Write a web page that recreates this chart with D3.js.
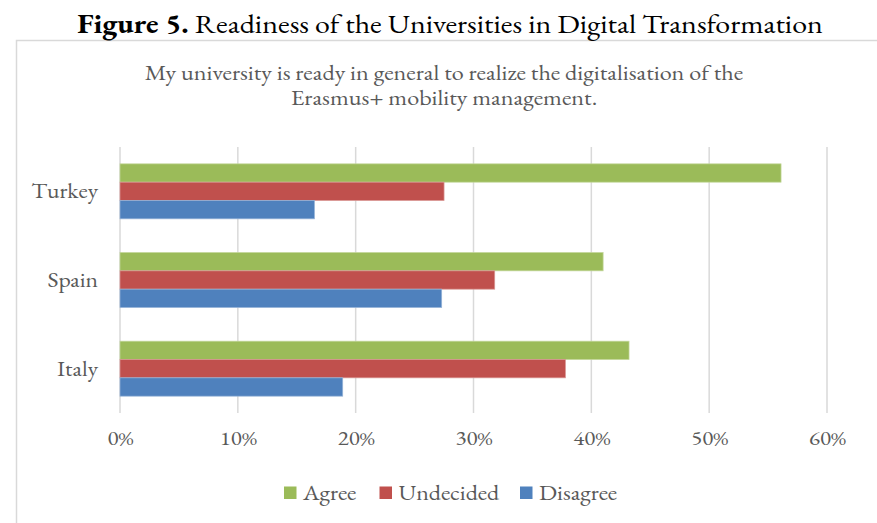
<!DOCTYPE html>
<html>
<head>
<meta charset="utf-8">
<script src="https://cdn.jsdelivr.net/npm/d3@7"></script>
<style>
  body { margin: 0; background: #fff; }
</style>
</head>
<body>
<div id="chart"></div>
<script>
var countries = ["Turkey", "Spain", "Italy"];
var series = ["Agree", "Undecided", "Disagree"];
var agree = [56.1, 41.0, 43.2];
var undecided = [27.5, 31.8, 37.8];
var disagree = [16.5, 27.3, 18.9];
var tickValues = [0, 10, 20, 30, 40, 50, 60];
var colors = ["#9BBB59", "#C0504D", "#4F81BD"];
var strokes = ["#c3d69b", "#d99694", "#95b3d7"];

var FONT = "'EB Garamond', 'Liberation Serif', serif";
var width = 877, height = 523;
var svg = d3.select("#chart").append("svg")
    .attr("width", width)
    .attr("height", height);

// widen glyphs horizontally around the text anchor (the source font is wider than EB Garamond)
function stretch(sel, k) {
    sel.each(function () {
        var t = d3.select(this);
        var ax = +t.attr("x") || 0;
        t.attr("transform", "translate(" + ax + ",0) scale(" + k + ",1) translate(" + (-ax) + ",0)");
    });
}

// outer chart frame
svg.append("rect")
    .attr("x", 16.5).attr("y", 40.5)
    .attr("width", 880).attr("height", 500)
    .attr("fill", "none")
    .attr("stroke", "#d9d9d9")
    .attr("stroke-width", 1.5);

// figure caption
var cap = svg.append("text")
    .attr("x", 450).attr("y", 33)
    .attr("text-anchor", "middle")
    .attr("font-family", FONT)
    .attr("font-size", 27)
    .attr("fill", "#000");
cap.append("tspan").attr("font-weight", "bold").text("Figure 5.");
cap.append("tspan").text(" Readiness of the Universities in Digital Transformation");
stretch(cap, 746 / cap.node().getBBox().width);

// chart title (two lines)
var titleLines = ["My university is ready in general to realize the digitalisation of the",
                  "Erasmus+ mobility management."];
var sub = svg.selectAll(".sub").data(titleLines).enter().append("text")
    .attr("class", "sub")
    .attr("x", 444)
    .attr("y", (d, i) => 80.5 + i * 25)
    .attr("text-anchor", "middle")
    .attr("font-family", FONT)
    .attr("font-size", 20.5)
    .attr("fill", "#595959")
    .text(d => d);
stretch(sub, 599 / sub.node().getBBox().width);

var x = d3.scaleLinear().domain([0, 60]).range([120, 827]);
var y = d3.scaleBand().domain(countries).range([147, 413])
    .paddingInner(0.38).paddingOuter(0.19);
var ys = d3.scaleBand().domain(series).range([0, y.bandwidth()]);

// gridlines
svg.append("g").selectAll("line").data(tickValues).enter().append("line")
    .attr("x1", d => x(d)).attr("x2", d => x(d))
    .attr("y1", 147).attr("y2", 413)
    .attr("stroke", "#d9d9d9")
    .attr("stroke-width", 1.5);

var values = [agree, undecided, disagree];
series.forEach(function (s, si) {
    svg.append("g").selectAll("rect").data(countries).enter().append("rect")
        .attr("x", x(0))
        .attr("y", d => y(d) + ys(s))
        .attr("width", (d, i) => x(values[si][i]) - x(0))
        .attr("height", ys.bandwidth())
        .attr("fill", colors[si])
        .attr("stroke", strokes[si])
        .attr("stroke-width", 0.75);
});

// x axis labels
var xAxis = d3.axisBottom(x).tickValues(tickValues).tickSize(0).tickPadding(0)
    .tickFormat(d => d + "%");
var gx = svg.append("g").attr("transform", "translate(0,431)").call(xAxis)
    .attr("font-family", FONT).attr("font-size", 20);
gx.select(".domain").remove();
gx.selectAll("text")
    .attr("fill", "#595959")
    .attr("dy", "0.71em")
    .call(stretch, 1.15);

// y axis labels
var yAxis = d3.axisLeft(y).tickSize(0).tickPadding(0);
var gy = svg.append("g").attr("transform", "translate(98,0)").call(yAxis)
    .attr("font-family", FONT).attr("font-size", 21.5);
gy.select(".domain").remove();
gy.selectAll("text")
    .attr("fill", "#595959")
    .call(stretch, 1.1);

// legend
var legendX = [284, 379.5, 520];
var leg = svg.append("g").selectAll("g").data(series).enter().append("g")
    .attr("transform", (d, i) => "translate(" + legendX[i] + ",486.5)");
leg.append("rect")
    .attr("width", 12.5).attr("height", 12.5)
    .attr("fill", (d, i) => colors[i]);
leg.append("text")
    .attr("x", 19).attr("y", 13.5)
    .attr("font-family", FONT)
    .attr("font-size", 20.5)
    .attr("fill", "#595959")
    .text(d => d)
    .call(stretch, 1.17);
</script>
</body>
</html>
